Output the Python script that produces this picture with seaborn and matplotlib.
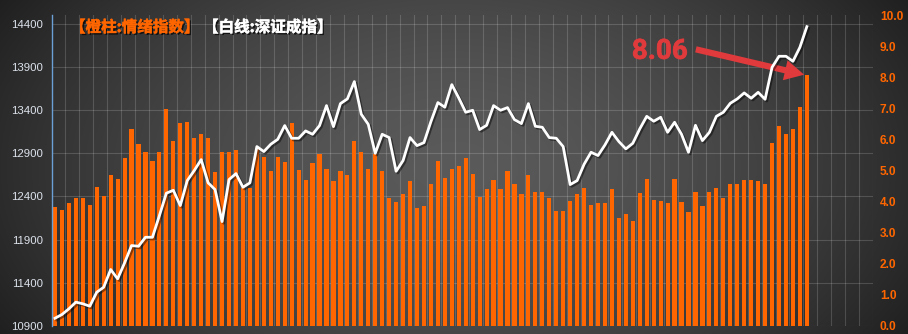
import numpy as np
import pandas as pd
import matplotlib
matplotlib.use("Agg")
import matplotlib.pyplot as plt
import matplotlib.patheffects as pe
import matplotlib.transforms as mtransforms
import seaborn as sns

# ---------------- data ----------------
sentiment = [3.84, 3.74, 3.94, 4.10, 4.10, 3.90, 4.48, 4.19, 4.84, 4.74,
             5.39, 6.35, 5.84, 5.58, 5.32, 5.61, 6.97, 5.94, 6.52, 6.55,
             6.03, 6.16, 6.06, 4.94, 5.58, 5.61, 5.65, 4.45, 4.45, 5.72,
             5.45, 4.98, 5.42, 5.26, 6.52, 5.03, 4.68, 5.23, 5.52, 5.06,
             4.65, 5.00, 4.87, 5.94, 5.58, 5.06, 5.52, 4.98, 4.10, 4.00,
             4.26, 4.65, 3.81, 3.87, 4.55, 5.32, 4.77, 5.06, 5.16, 5.39,
             4.90, 4.16, 4.42, 4.68, 4.42, 5.00, 4.55, 4.26, 4.87, 4.32,
             4.32, 4.13, 3.71, 3.71, 4.03, 4.26, 4.45, 3.90, 3.97, 3.97,
             4.42, 3.48, 3.61, 3.39, 4.29, 4.74, 4.06, 4.03, 3.97, 4.74,
             4.00, 3.68, 4.32, 3.87, 4.32, 4.45, 4.13, 4.55, 4.58, 4.71,
             4.68, 4.65, 4.58, 5.90, 6.42, 6.16, 6.35, 7.03, 8.06]

szci = [10990, 11033, 11099, 11176, 11157, 11129, 11291, 11349, 11554, 11446,
        11631, 11831, 11823, 11927, 11927, 12178, 12437, 12471, 12294, 12583,
        12699, 12826, 12557, 12479, 12109, 12595, 12664, 12506, 12557, 12977,
        12919, 13004, 13061, 13220, 13073, 13073, 13158, 13119, 13220, 13451,
        13208, 13474, 13529, 13729, 13351, 13235, 12899, 13119, 13081, 12691,
        12815, 13081, 12988, 13023, 13266, 13486, 13432, 13694, 13540, 13374,
        13397, 13174, 13223, 13451, 13397, 13428, 13289, 13243, 13474, 13212,
        13200, 13081, 13073, 12977, 12537, 12583, 12772, 12911, 12873, 12996,
        13142, 13035, 12950, 13015, 13182, 13327, 13270, 13316, 13142, 13258,
        13119, 12911, 13223, 13046, 13142, 13327, 13374, 13478, 13529, 13598,
        13536, 13605, 13524, 13894, 14022, 14022, 13964, 14126, 14365]

left_ticks = [10900, 11400, 11900, 12400, 12900, 13400, 13900, 14400]
right_ticks = [0, 1, 2, 3, 4, 5, 6, 7, 8, 9, 10]
title_bar = "【橙柱:情绪指数】"
title_line = "【白线:深证成指】"

ORANGE = "#FF6600"
RED = "#E03A3C"

plt.rcParams["font.family"] = ["Liberation Sans", "Noto Sans CJK SC", "DejaVu Sans"]

positions = list(range(len(sentiment)))
df = pd.DataFrame({"pos": positions, "sentiment": sentiment, "szci": szci})

W, H = 908, 334
fig = plt.figure(figsize=(W / 100, H / 100), dpi=100)

# background radial gradient
bg = fig.add_axes([0, 0, 1, 1], zorder=-10)
yy, xx = np.mgrid[0:H, 0:W]
d = np.sqrt(((xx - W / 2) / (W * 0.5)) ** 2 + ((yy - H * 0.5) / (H * 0.85)) ** 2)
val = np.clip(90 - 46 * d ** 1.6, 30, 92) / 255.0
bg.imshow(np.dstack([val, val, val]), aspect="auto", interpolation="bilinear")
bg.set_axis_off()

left_px, right_px, top_px, bot_px = 51.5, 873, 15, 326
ax = fig.add_axes([left_px / W, (H - bot_px) / H, (right_px - left_px) / W, (bot_px - top_px) / H])
ax.patch.set_alpha(0)

sns.barplot(data=df, x="pos", y="sentiment", ax=ax, color=ORANGE, saturation=1,
            width=0.6, errorbar=None, linewidth=0, zorder=2)

ax2 = ax.twinx()
sns.lineplot(data=df, x="pos", y="szci", ax=ax2, color="white", linewidth=2.0,
             path_effects=[pe.SimpleLineShadow(offset=(1.2, -1.2), alpha=0.45), pe.Normal()])

ax.set_xlim(-0.5, 117.5)
ax.set_ylim(0, 10)
ax2.set_ylim(10900, 14500)

# right axis (bars)
ax.yaxis.tick_right()
ax.set_yticks(right_ticks)
ax.set_yticklabels([f"{t:.1f}" for t in right_ticks])
ax.tick_params(axis="y", length=0, pad=5, labelsize=8.6, labelcolor=ORANGE)
for lb in ax.get_yticklabels():
    lb.set_fontweight("bold")
ax.set_xticks([])
ax.set_xlabel("")
ax.set_ylabel("")

# left axis (line)
ax2.yaxis.tick_left()
ax2.set_yticks(left_ticks)
ax2.tick_params(axis="y", length=0, pad=6, labelsize=8.2, labelcolor="#dde3ec")
ax2.set_ylabel("")
ax2.set_xlabel("")
ax2.set_xticks([])

for a in (ax, ax2):
    for s in a.spines.values():
        s.set_visible(False)
ax2.spines["left"].set_visible(True)
ax2.spines["left"].set_color("#6c9fd4")
ax2.spines["left"].set_linewidth(1.0)

# gridlines (under bars)
grid_kw = dict(color="white", alpha=0.16, linewidth=0.8, zorder=0.5)
trans = mtransforms.blended_transform_factory(ax.transAxes, ax2.transData)
for t in left_ticks:
    ax.plot([0, 1], [t, t], transform=trans, **grid_kw)
for xg in np.arange(1.5, 118, 2):
    ax.axvline(xg, **grid_kw)

# titles
def title_fx(color):
    return [pe.SimplePatchShadow(offset=(1.2, -1.2), shadow_rgbFace="black", alpha=0.7),
            pe.withStroke(linewidth=0.35, foreground=color)]

fig.text(70 / W, 1 - 27 / H, title_bar, color=ORANGE, fontsize=11.2, fontweight="bold",
         family=["Noto Sans CJK SC", "DejaVu Sans"], va="center", ha="left",
         path_effects=title_fx(ORANGE))
fig.text(203 / W, 1 - 27 / H, title_line, color="white", fontsize=11.2, fontweight="bold",
         family=["Noto Sans CJK SC", "DejaVu Sans"], va="center", ha="left",
         path_effects=title_fx("white"))

# annotation of the last value
last = len(sentiment) - 1
ax.annotate(f"{sentiment[-1]:.2f}", xy=(last, sentiment[-1]), xytext=(-147, 24),
            textcoords="offset pixels", ha="center", va="center", color=RED,
            fontsize=20, fontweight="bold", family=["Roboto", "DejaVu Sans"], zorder=6,
            path_effects=[pe.withStroke(linewidth=0.5, foreground=RED)])
ax.annotate("", xy=(last, sentiment[-1]), xytext=(-111, 26), textcoords="offset pixels",
            arrowprops=dict(arrowstyle="simple,head_length=1.0,head_width=1.05,tail_width=0.32",
                            mutation_scale=14, color=RED, shrinkA=0, shrinkB=2, lw=0),
            zorder=6, annotation_clip=False)

fig.savefig("out.png", dpi=100)
